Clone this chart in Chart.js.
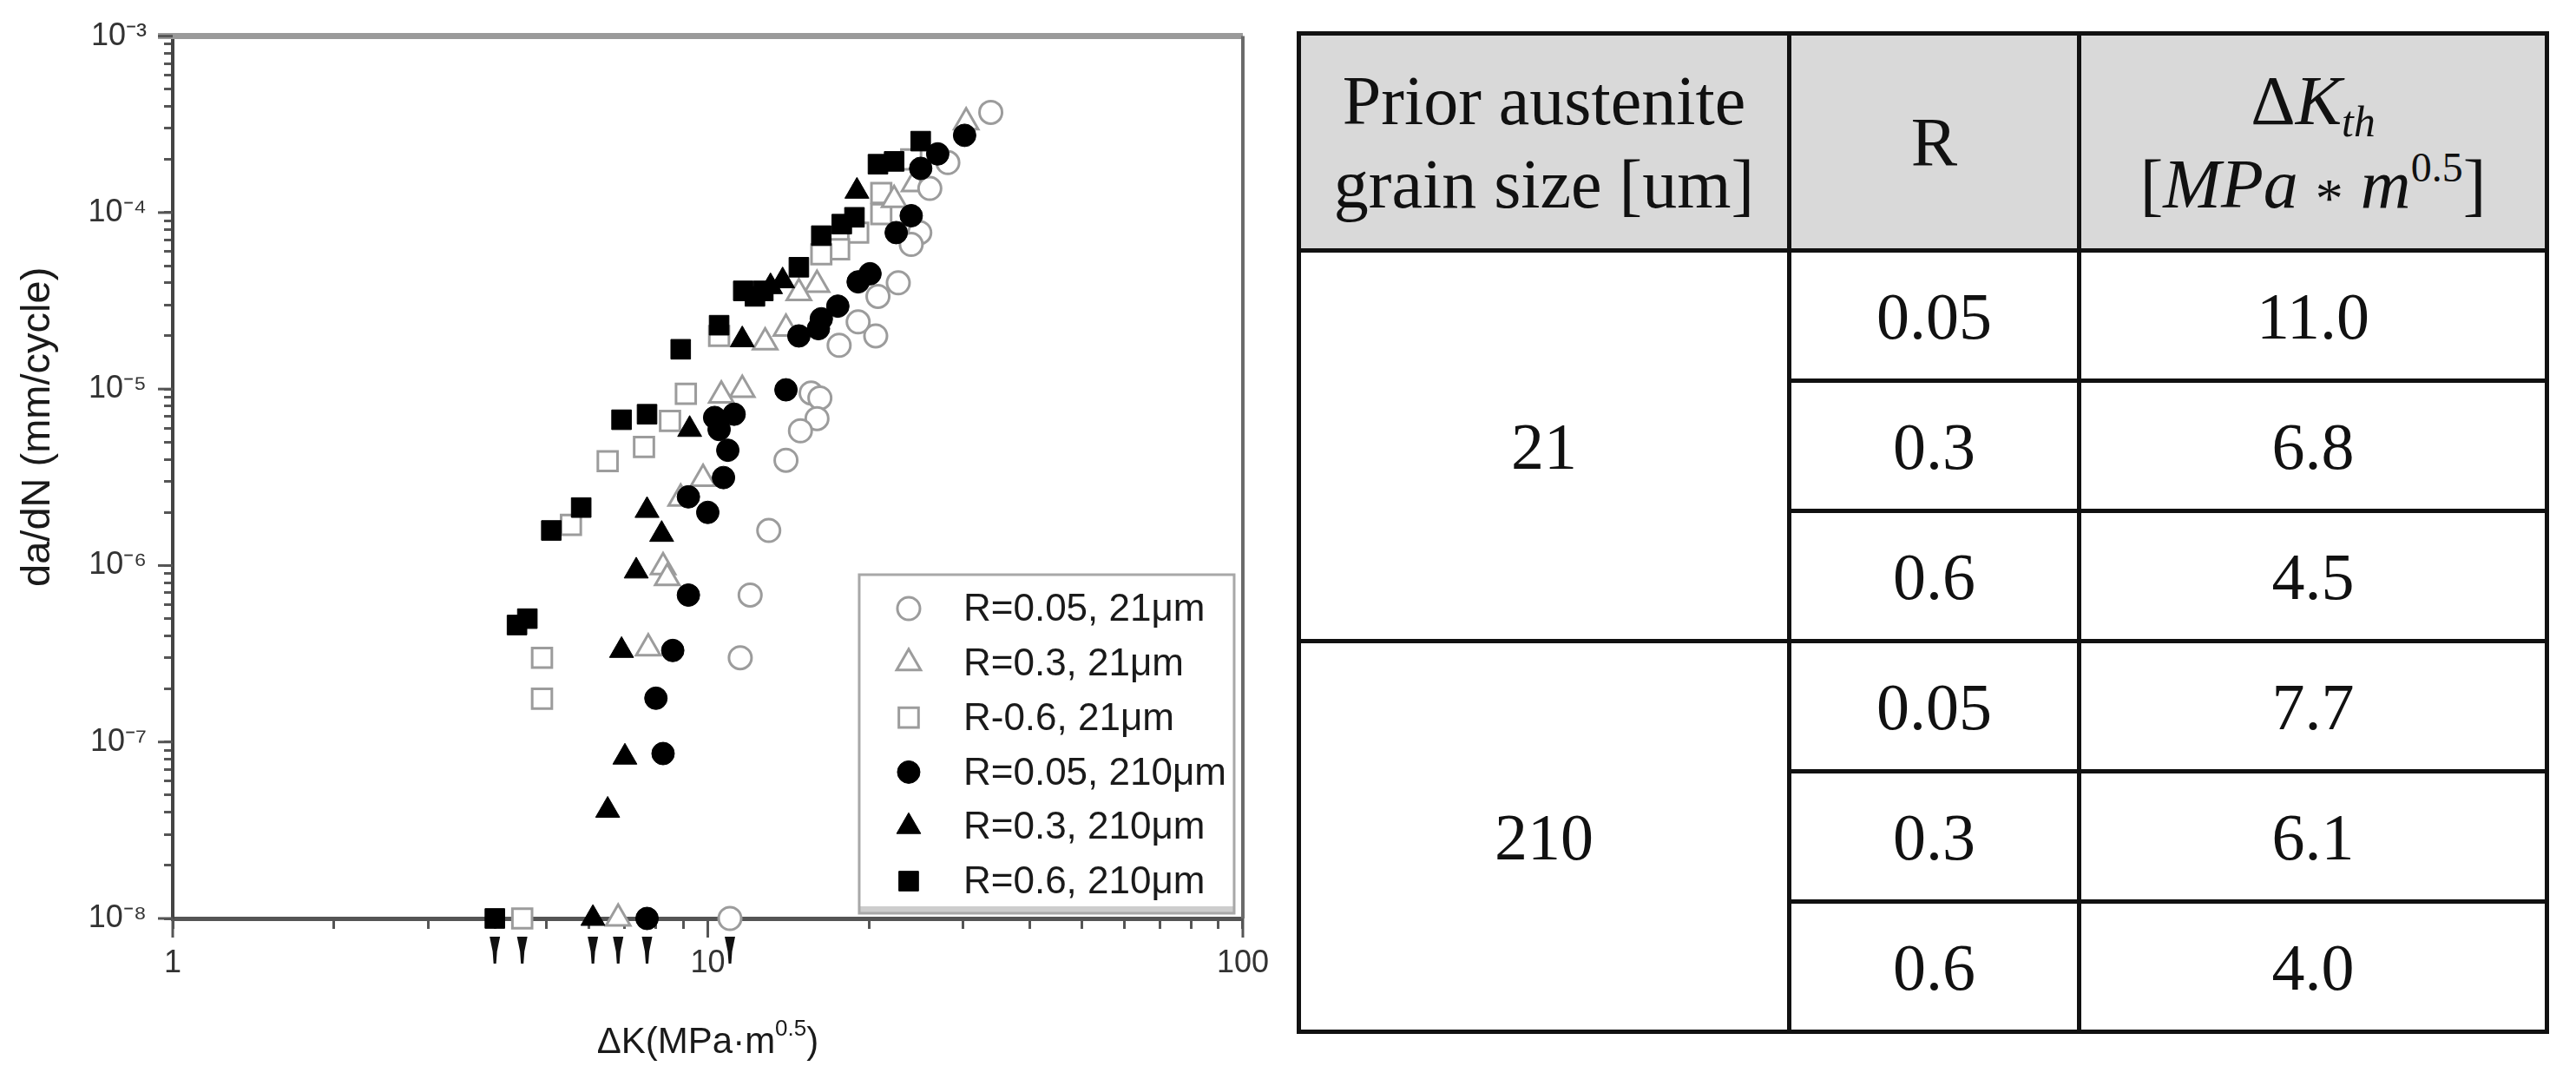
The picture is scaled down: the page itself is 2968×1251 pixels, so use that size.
<!DOCTYPE html>
<html>
<head>
<meta charset="utf-8">
<script src="https://cdn.jsdelivr.net/npm/chart.js@4.4.1/dist/chart.umd.min.js"></script>
<style>
    html, body { margin: 0; padding: 0; background: #fff; }
    body { width: 2968px; height: 1251px; position: relative; overflow: hidden; }
    #chartBox { position: absolute; left: 0; top: 0; width: 1480px; height: 1251px; }
    #kthTable {
        position: absolute; left: 1494px; top: 36px; width: 1438px;
        border-collapse: collapse; table-layout: fixed;
        font-family: 'Liberation Serif', serif; color: #111;
    }
    #kthTable th, #kthTable td { border: 5px solid #111; text-align: center; vertical-align: middle; padding: 0; box-sizing: border-box; }
    #kthTable th { background: #d9d9d9; font-weight: normal; font-size: 80px; line-height: 96px; height: 250px; }
    #kthTable td { font-size: 76px; line-height: 90px; height: 150px; }
    #kthTable sub { font-size: 0.62em; vertical-align: -0.28em; line-height: 0; }
    #kthTable sup { font-size: 0.6em; vertical-align: 0.62em; line-height: 0; }
    #kthTable .op { font-size: 0.8em; position: relative; top: 0.18em; line-height: 0; }
</style>
</head>
<body>
<div id="chartBox"><canvas id="fcgChart"></canvas></div>
<table id="kthTable">
    <colgroup><col style="width:565px"><col style="width:334px"><col style="width:539px"></colgroup>
    <thead>
        <tr>
            <th>Prior austenite<br>grain size [um]</th>
            <th>R</th>
            <th>&Delta;<i>K</i><sub><i>th</i></sub><br>[<i>MPa</i> <span class="op">*</span> <i>m</i><sup>0.5</sup>]</th>
        </tr>
    </thead>
    <tbody id="kthBody"></tbody>
</table>
<script>
// table values
const grainSizes = ['21', '210'];
const stressRatios = ['0.05', '0.3', '0.6'];
const kth21 = [11.0, 6.8, 4.5];
const kth210 = [7.7, 6.1, 4.0];

// threshold points are plotted on the lower axis limit
const thresholdRate = 1e-8;

// R=0.05, 21um (open circles)
const r005g21K = [33.8, 28.1, 26.0, 24.9, 24.0, 22.7, 20.8, 20.6, 19.1, 17.6, 15.6, 16.2, 16.0, 14.9, 14.0, 13.0, 12.0, 11.5];
const r005g21Rate = [3.7e-4, 1.92e-4, 1.37e-4, 7.7e-5, 6.6e-5, 4.0e-5, 3.35e-5, 2.0e-5, 2.4e-5, 1.77e-5, 9.5e-6, 8.9e-6, 6.8e-6, 5.8e-6, 3.95e-6, 1.58e-6, 6.8e-7, 3.0e-7];

// R=0.3, 21um (open triangles)
const r03g21K = [30.4, 24.3, 22.3, 16.0, 14.8, 14.0, 12.8, 11.6, 10.6, 9.8, 8.9, 8.25, 8.4, 7.74];
const r03g21Rate = [3.25e-4, 1.45e-4, 1.18e-4, 3.9e-5, 3.5e-5, 2.2e-5, 1.84e-5, 9.9e-6, 9.2e-6, 3.1e-6, 2.4e-6, 9.8e-7, 8.5e-7, 3.4e-7];

// R=0.6, 21um (open squares)
const r06g21K = [24.0, 21.1, 21.1, 19.1, 17.6, 16.3, 10.5, 9.1, 8.5, 7.6, 6.5, 5.55, 4.9, 4.9];
const r06g21Rate = [2.0e-4, 1.29e-4, 9.8e-5, 7.7e-5, 6.2e-5, 5.8e-5, 2.0e-5, 9.4e-6, 6.6e-6, 4.7e-6, 3.9e-6, 1.7e-6, 3.0e-7, 1.76e-7];

// R=0.05, 210um (filled circles)
const r005g210K = [30.2, 26.9, 25.0, 24.0, 22.5, 20.1, 19.1, 17.5, 16.3, 16.1, 14.8, 14.0, 11.2, 10.3, 10.5, 10.9, 10.7, 9.2, 10.0, 9.2, 8.6, 8.0, 8.25];
const r005g210Rate = [2.74e-4, 2.15e-4, 1.78e-4, 9.6e-5, 7.7e-5, 4.5e-5, 4.05e-5, 2.95e-5, 2.5e-5, 2.2e-5, 2.0e-5, 9.9e-6, 7.2e-6, 6.9e-6, 5.9e-6, 4.5e-6, 3.15e-6, 2.45e-6, 2.0e-6, 6.8e-7, 3.3e-7, 1.77e-7, 8.6e-8];

// R=0.3, 210um (filled triangles)
const r03g210K = [19.0, 13.8, 13.1, 11.6, 9.25, 7.7, 8.2, 7.35, 6.9, 7.0, 6.5];
const r03g210Rate = [1.32e-4, 4.1e-5, 3.8e-5, 1.9e-5, 5.9e-6, 2.05e-6, 1.5e-6, 9.3e-7, 3.3e-7, 8.2e-8, 4.1e-8];

// R=0.6, 210um (filled squares)
const r06g210K = [25.0, 22.3, 20.8, 18.8, 17.8, 16.3, 14.8, 11.65, 12.7, 12.25, 10.5, 8.9, 7.7, 6.9, 5.8, 5.1, 4.6, 4.4];
const r06g210Rate = [2.54e-4, 1.95e-4, 1.88e-4, 9.4e-5, 8.6e-5, 7.4e-5, 4.9e-5, 3.6e-5, 3.6e-5, 3.35e-5, 2.3e-5, 1.68e-5, 7.2e-6, 6.7e-6, 2.13e-6, 1.58e-6, 5.0e-7, 4.6e-7];

const seriesLabels = ['R=0.05, 21\u03bcm', 'R=0.3, 21\u03bcm', 'R-0.6, 21\u03bcm', 'R=0.05, 210\u03bcm', 'R=0.3, 210\u03bcm', 'R=0.6, 210\u03bcm'];

const yTitle = 'da/dN (mm/cycle)';
const xTitleMain = '\u0394K(MPa\u00b7m';
const xTitleSup = '0.5';

const FONT = '"Liberation Sans", Arial, sans-serif';
const SUP = { '-': '\u207b', '0': '\u2070', '1': '\u00b9', '2': '\u00b2', '3': '\u00b3', '4': '\u2074', '5': '\u2075', '6': '\u2076', '7': '\u2077', '8': '\u2078', '9': '\u2079' };

function decadeExp(v) {
    const e = Math.log10(v);
    return Math.abs(e - Math.round(e)) < 1e-6 ? Math.round(e) : null;
}

// drop the extra 1.5 x 10^n ticks chart.js adds on log axes
function dropHalfTicks(scale) {
    scale.ticks = scale.ticks.filter(t => {
        const m = t.value / Math.pow(10, Math.floor(Math.log10(t.value) + 1e-9));
        return Math.abs(m - 1.5) > 1e-6;
    });
}

function buildTable() {
    const body = document.getElementById('kthBody');
    const groups = [kth21, kth210];
    grainSizes.forEach((g, gi) => {
        stressRatios.forEach((r, ri) => {
            const tr = document.createElement('tr');
            if (ri === 0) {
                const td = document.createElement('td');
                td.rowSpan = stressRatios.length;
                td.textContent = g;
                tr.appendChild(td);
            }
            const tdR = document.createElement('td');
            tdR.textContent = r;
            const tdK = document.createElement('td');
            tdK.textContent = groups[gi][ri].toFixed(1);
            tr.appendChild(tdR);
            tr.appendChild(tdK);
            body.appendChild(tr);
        });
    });
}

function makeSeries(i, ks, rates, marker, filled, radius) {
    const kth = (i < 3 ? kth21 : kth210)[i % 3];
    const data = ks.map((k, j) => ({ x: k, y: rates[j] }));
    data.push({ x: kth, y: thresholdRate });
    return {
        label: seriesLabels[i],
        data: data,
        pointStyle: marker,
        pointRadius: radius,
        pointHoverRadius: radius,
        pointBackgroundColor: filled ? '#000' : '#fff',
        pointBorderColor: filled ? '#000' : '#9c9c9c',
        pointBorderWidth: filled ? 1 : 3,
        order: filled ? 1 : 2,
        clip: false
    };
}

function drawMarker(ctx, style, r, x, y) {
    ctx.beginPath();
    if (style === 'circle') {
        ctx.arc(x, y, r, 0, Math.PI * 2);
    } else if (style === 'rect') {
        const s = Math.SQRT1_2 * r;
        ctx.rect(x - s, y - s, 2 * s, 2 * s);
    } else {
        for (let k = 0; k < 3; k++) {
            const a = k * 2 * Math.PI / 3;
            const px = x + Math.sin(a) * r, py = y - Math.cos(a) * r;
            if (k === 0) ctx.moveTo(px, py); else ctx.lineTo(px, py);
        }
        ctx.closePath();
    }
    ctx.fill();
    ctx.stroke();
}

const framePlugin = {
    id: 'frame',
    beforeDatasetsDraw(chart) {
        const { ctx, chartArea: a, scales } = chart;
        ctx.save();
        ctx.strokeStyle = '#9a9a9a';
        ctx.lineWidth = 7;
        ctx.beginPath();
        ctx.moveTo(a.left - 17, a.top);
        ctx.lineTo(a.right, a.top);
        ctx.stroke();
        ctx.strokeStyle = '#6a6a6a';
        ctx.lineWidth = 4;
        ctx.beginPath();
        ctx.moveTo(a.right, a.top);
        ctx.lineTo(a.right, a.bottom);
        ctx.stroke();
        // longer marks at the decades
        ctx.strokeStyle = '#555';
        ctx.lineWidth = 3;
        scales.y.ticks.forEach(t => {
            if (decadeExp(t.value) === null) return;
            const py = scales.y.getPixelForValue(t.value);
            ctx.beginPath();
            ctx.moveTo(a.left - 17, py);
            ctx.lineTo(a.left, py);
            ctx.stroke();
        });
        scales.x.ticks.forEach(t => {
            if (decadeExp(t.value) === null) return;
            const px = scales.x.getPixelForValue(t.value);
            ctx.beginPath();
            ctx.moveTo(px, a.bottom);
            ctx.lineTo(px, a.bottom + 22);
            ctx.stroke();
        });
        ctx.restore();
    }
};

// wedge-shaped arrows under the threshold values
const arrowPlugin = {
    id: 'thresholdArrows',
    afterDraw(chart) {
        const { ctx, chartArea: a, scales } = chart;
        const b = a.bottom;
        ctx.save();
        ctx.fillStyle = '#111';
        kth21.concat(kth210).forEach(k => {
            const px = scales.x.getPixelForValue(k);
            ctx.beginPath();
            ctx.moveTo(px - 6, b + 21);
            ctx.lineTo(px + 6, b + 21);
            ctx.lineTo(px + 2.5, b + 38);
            ctx.lineTo(px + 1.5, b + 52);
            ctx.lineTo(px - 1.5, b + 52);
            ctx.lineTo(px - 2.5, b + 38);
            ctx.closePath();
            ctx.fill();
        });
        ctx.restore();
    }
};

const legendPlugin = {
    id: 'boxLegend',
    afterDraw(chart) {
        const { ctx, chartArea: a } = chart;
        const right = a.right - 10, bottom = a.bottom - 6;
        const left = right - 432, top = bottom - 390;
        ctx.save();
        ctx.fillStyle = '#fff';
        ctx.fillRect(left, top, right - left, bottom - top);
        ctx.fillStyle = '#cdcdcd';
        ctx.fillRect(left, bottom - 8, right - left, 8);
        ctx.strokeStyle = '#a8a8a8';
        ctx.lineWidth = 3;
        ctx.strokeRect(left, top, right - left, bottom - top);
        chart.data.datasets.forEach((ds, i) => {
            const y = top + 39 + i * 62.8;
            ctx.fillStyle = ds.pointBackgroundColor;
            ctx.strokeStyle = ds.pointBorderColor;
            ctx.lineWidth = ds.pointBorderWidth;
            drawMarker(ctx, ds.pointStyle, ds.pointRadius, left + 57, y);
            ctx.fillStyle = '#1a1a1a';
            ctx.font = '44px ' + FONT;
            ctx.textAlign = 'left';
            ctx.textBaseline = 'middle';
            ctx.fillText(ds.label, left + 120, y + 2);
        });
        ctx.restore();
    }
};

const titlePlugin = {
    id: 'axisTitles',
    afterDraw(chart) {
        const { ctx, chartArea: a } = chart;
        ctx.save();
        ctx.fillStyle = '#1a1a1a';
        ctx.font = '47px ' + FONT;
        ctx.textAlign = 'center';
        ctx.textBaseline = 'middle';
        ctx.translate(44, (a.top + a.bottom) / 2 - 58);
        ctx.rotate(-Math.PI / 2);
        ctx.fillText(yTitle, 0, 0);
        ctx.restore();

        ctx.save();
        ctx.fillStyle = '#1a1a1a';
        ctx.textBaseline = 'alphabetic';
        ctx.textAlign = 'left';
        const mainFont = '42px ' + FONT, supFont = '26px ' + FONT;
        ctx.font = mainFont;
        const wMain = ctx.measureText(xTitleMain).width;
        const wClose = ctx.measureText(')').width;
        ctx.font = supFont;
        const wSup = ctx.measureText(xTitleSup).width;
        let x = (a.left + a.right) / 2 - (wMain + wSup + wClose) / 2;
        const base = a.bottom + 155;
        ctx.font = mainFont;
        ctx.fillText(xTitleMain, x, base);
        x += wMain;
        ctx.font = supFont;
        ctx.fillText(xTitleSup, x, base - 20);
        x += wSup;
        ctx.font = mainFont;
        ctx.fillText(')', x, base);
        ctx.restore();
    }
};

function initChart() {
    const ctx = document.getElementById('fcgChart').getContext('2d');
    return new Chart(ctx, {
        type: 'scatter',
        data: {
            datasets: [
                makeSeries(0, r005g21K, r005g21Rate, 'circle', false, 13),
                makeSeries(1, r03g21K, r03g21Rate, 'triangle', false, 16),
                makeSeries(2, r06g21K, r06g21Rate, 'rect', false, 16),
                makeSeries(3, r005g210K, r005g210Rate, 'circle', true, 13),
                makeSeries(4, r03g210K, r03g210Rate, 'triangle', true, 16),
                makeSeries(5, r06g210K, r06g210Rate, 'rect', true, 16)
            ]
        },
        options: {
            responsive: true,
            maintainAspectRatio: false,
            devicePixelRatio: 1,
            animation: false,
            events: [],
            layout: { padding: { left: 0, top: 35, right: 48, bottom: 0 } },
            plugins: {
                legend: { display: false },
                tooltip: { enabled: false }
            },
            scales: {
                x: {
                    type: 'logarithmic',
                    min: 1,
                    max: 100,
                    afterBuildTicks: dropHalfTicks,
                    afterFit: scale => { scale.height = 193; },
                    border: { display: true, color: '#555', width: 5 },
                    grid: { drawOnChartArea: false, drawTicks: true, tickLength: 12, tickColor: '#555', tickWidth: 3 },
                    ticks: {
                        autoSkip: false,
                        maxRotation: 0,
                        padding: 18,
                        color: '#333',
                        font: { family: FONT, size: 36 },
                        callback: v => decadeExp(v) === null ? '' : String(Math.round(v))
                    }
                },
                y: {
                    type: 'logarithmic',
                    min: 1e-8,
                    max: 1e-3,
                    afterBuildTicks: dropHalfTicks,
                    afterFit: scale => { scale.width = 199; },
                    border: { display: true, color: '#444', width: 4 },
                    grid: { drawOnChartArea: false, drawTicks: true, tickLength: 10, tickColor: '#555', tickWidth: 3 },
                    ticks: {
                        autoSkip: false,
                        padding: 20,
                        color: '#333',
                        font: { family: FONT, size: 36 },
                        callback: v => {
                            const e = decadeExp(v);
                            if (e === null) return '';
                            return '10' + String(e).split('').map(c => SUP[c]).join('');
                        }
                    }
                }
            }
        },
        plugins: [framePlugin, arrowPlugin, legendPlugin, titlePlugin]
    });
}

buildTable();
window.fcgChart = initChart();
</script>
</body>
</html>
